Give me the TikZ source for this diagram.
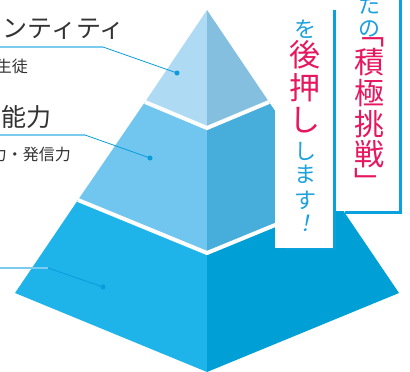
\documentclass[tikz,border=0pt]{standalone}
\usepackage{fontspec}
\setmainfont{Noto Sans CJK JP}
\newfontfamily\jpslant[FakeSlant=0.2]{Noto Sans CJK JP}

\definecolor{topL}{HTML}{AEDAF3}
\definecolor{topR}{HTML}{84BFE0}
\definecolor{midL}{HTML}{70C6EE}
\definecolor{midR}{HTML}{47ADDB}
\definecolor{botL}{HTML}{1EB4EA}
\definecolor{botR}{HTML}{009FD5}
\definecolor{textgray}{HTML}{333333}
\definecolor{keyblue}{HTML}{1BA1DE}
\definecolor{keypink}{HTML}{E6175F}
\definecolor{frameblue}{HTML}{0BA0DE}
\definecolor{leadlight}{HTML}{7BCBEF}
\definecolor{leaddark}{HTML}{0A9BDB}

\tikzset{
  vchar/.style={inner sep=0pt, text height=0.83em, text depth=0.07em},
  bigpink/.style={vchar, text=keypink, font=\fontsize{30}{30}\selectfont},
  smallblue/.style={vchar, text=keyblue, font=\fontsize{22}{22}\selectfont},
  headline/.style={inner sep=0pt, text=textgray, font=\fontsize{25}{25}\selectfont},
  subline/.style={inner sep=0pt, text=textgray, font=\fontsize{16}{16}\selectfont},
  leaddot/.style={circle, fill=leaddark, inner sep=0pt, minimum size=5pt},
}

\begin{document}
\begin{tikzpicture}[x=1pt,y=-1pt]
\useasboundingbox (0,0) rectangle (410,372);

% pyramid corners
\coordinate (apex) at (207,10);
\coordinate (baseL) at (15,293);
\coordinate (baseF) at (207,372);
\coordinate (baseR) at (399,293);
\coordinate (cutAL) at (145,102);
\coordinate (cutAF) at (207,128);
\coordinate (cutAR) at (269,102);
\coordinate (cutBL) at (78,200);
\coordinate (cutBF) at (207,253);
\coordinate (cutBR) at (336,200);

% faces
\fill[botL] (cutBL) -- (baseL) -- (baseF) -- (cutBF) -- cycle;
\fill[botR] (cutBR) -- (baseR) -- (baseF) -- (cutBF) -- cycle;
\fill[midL] (cutAL) -- (cutBL) -- (cutBF) -- (cutAF) -- cycle;
\fill[midR] (cutAR) -- (cutBR) -- (cutBF) -- (cutAF) -- cycle;
\fill[topL] (apex) -- (cutAL) -- (cutAF) -- cycle;
\fill[topR] (apex) -- (cutAR) -- (cutAF) -- cycle;

% white gaps between tiers
\draw[white,line width=4pt] (cutAL) -- (cutAF) -- (cutAR);
\draw[white,line width=4pt] (cutBL) -- (cutBF) -- (cutBR);

% leaders
\coordinate (leadA0) at (0,47);
\coordinate (leadA1) at (103,47);
\node[leaddot] (dotA) at (177,73) {};
\draw[leadlight,line width=1.5pt] (leadA0) -- (leadA1);
\draw[leaddark,line width=0.8pt] (leadA1) -- (dotA.center);

\coordinate (leadB0) at (0,135);
\coordinate (leadB1) at (85,135);
\node[leaddot] (dotB) at (150,158) {};
\draw[leadlight,line width=1.5pt] (leadB0) -- (leadB1);
\draw[leaddark,line width=0.8pt] (leadB1) -- (dotB.center);

\coordinate (leadC0) at (0,268);
\coordinate (leadC1) at (48,268);
\node[leaddot] (dotC) at (103,287) {};
\draw[leadlight,line width=1.5pt] (leadC0) -- (leadC1);
\draw[leaddark,line width=0.8pt] (leadC1) -- (dotC.center);

% left labels
\node[headline,anchor=base east] (identity) at (125,37) {ンティティ};
\node[subline,anchor=base east] (seito) at (28,72) {生徒};
\node[headline,anchor=base west] (nouryoku) at (1,126) {能力};
\node[subline,anchor=base east] (hasshin) at (71,160) {力・発信力};

% boxes
\fill[frameblue] (285,10) rectangle (335.5,250);
\fill[white] (275,-2) rectangle (332.5,247.5);
\fill[frameblue] (345,-2) rectangle (401.5,214);
\fill[white] (335.5,-2) rectangle (398.5,211);

% vertical text, right box
\node[smallblue] (ta) at (369,10) {た};
\node[smallblue] (no) at (369,33) {の};
\node[bigpink] (kakkoL) at (369,41) {﹁};
\node[bigpink] (seki) at (369,70) {積};
\node[bigpink] (kyoku) at (369,101) {極};
\node[bigpink] (chou) at (369,132) {挑};
\node[bigpink] (sen) at (369,162) {戦};
\node[bigpink] (kakkoR) at (369,190) {﹂};

% vertical text, left box
\node[smallblue] (wo) at (305,34) {を};
\node[bigpink,font=\fontsize{31}{31}\selectfont] (ato) at (305,63) {後};
\node[bigpink,font=\fontsize{31}{31}\selectfont] (osu) at (305,96) {押};
\node[bigpink,font=\fontsize{31}{31}\selectfont] (shiA) at (305,128) {し};
\node[smallblue] (shiB) at (305,156) {し};
\node[smallblue] (ma) at (305,179) {ま};
\node[smallblue] (su) at (305,205) {す};
\node[smallblue,font=\fontsize{22}{22}\selectfont\jpslant] (bang) at (305,228) {！};
\end{tikzpicture}
\end{document}
